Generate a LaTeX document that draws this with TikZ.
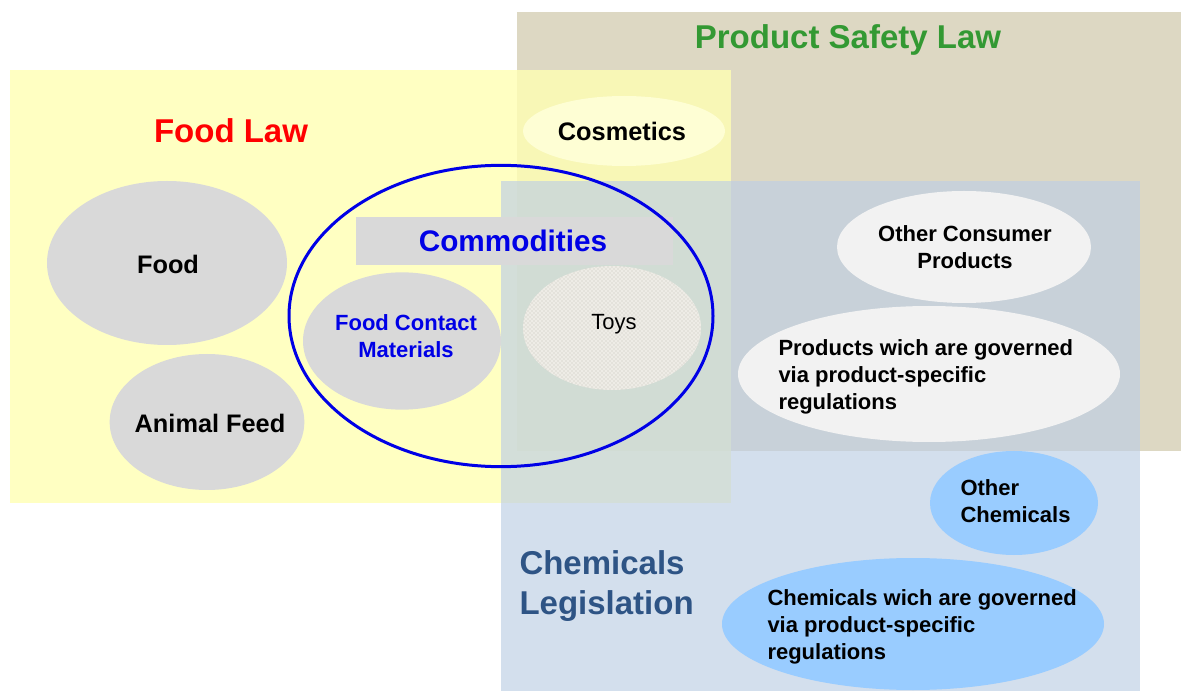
\documentclass[tikz,border=0pt]{standalone}
\usepackage{fontspec}
\setmainfont{Liberation Sans}
\usetikzlibrary{shapes.geometric,patterns}

\definecolor{lawtan}{RGB}{221,216,195}
\definecolor{lawyellow}{RGB}{255,255,179}
\definecolor{chemblue}{RGB}{190,207,228}
\definecolor{itemgrey}{RGB}{217,217,217}
\definecolor{itemwhite}{RGB}{242,242,242}
\definecolor{cosmyellow}{RGB}{254,254,212}
\definecolor{itemblue}{RGB}{153,204,255}
\definecolor{commblue}{RGB}{0,0,230}
\definecolor{lawred}{RGB}{255,0,0}
\definecolor{lawgreen}{RGB}{51,153,51}
\definecolor{chemtitle}{RGB}{46,84,133}
\definecolor{toyfill}{RGB}{238,236,230}
\definecolor{toydots}{RGB}{196,194,186}

\tikzset{every picture/.style={line width=0.75pt}}
\tikzset{
  item/.style={ellipse, inner sep=0pt},
  itemtext/.style={inner sep=0pt, align=left, font=\bfseries\fontsize{16.5}{20}\selectfont},
  bigtext/.style={inner sep=0pt, font=\bfseries\fontsize{19}{23}\selectfont},
  lawtitle/.style={inner sep=0pt, font=\bfseries\fontsize{24.75}{30}\selectfont},
}

\begin{document}
\begin{tikzpicture}[x=0.75pt,y=0.75pt,yscale=-1,xscale=1]
		\useasboundingbox (0,0) rectangle (1182,691);
		
		%Shape: Rectangle [product safety law]
		\fill [lawtan] (517,12) rectangle (1181,451) ;
		%Shape: Rectangle [food law]
		\fill [lawyellow, fill opacity=0.8] (10,70) rectangle (731,503) ;
		%Shape: Rectangle [chemicals legislation]
		\fill [chemblue, fill opacity=0.67] (501,181) rectangle (1140,691) ;
		
		%Shape: Ellipse [food law items]
		\node [item, fill=itemgrey, minimum width=180pt, minimum height=123pt] (food) at (167,263) {};
		\node [item, fill=itemgrey, minimum width=146pt, minimum height=102pt] (feed) at (207,422) {};
		
		%Shape: Ellipse [commodities]
		\node [item, fill=itemgrey, minimum width=148.5pt, minimum height=103pt] (fcm) at (402,341) {};
		\node [item, fill=toyfill, postaction={pattern=crosshatch dots, pattern color=toydots}, minimum width=133.5pt, minimum height=93pt] (toys) at (612,328) {};
		\node [fill=itemgrey, inner sep=0pt, minimum width=238pt, minimum height=36pt] (commbox) at (514.5,241) {};
		\node [item, draw=commblue, line width=2.25pt, minimum width=318pt, minimum height=226pt] (commring) at (501,316) {};
		
		%Shape: Ellipse [product safety items]
		\node [item, fill=cosmyellow, minimum width=151.5pt, minimum height=52.5pt] (cosm) at (624,131) {};
		\node [item, fill=itemwhite, minimum width=190.5pt, minimum height=84pt] (ocp) at (964,247) {};
		\node [item, fill=itemwhite, minimum width=286.5pt, minimum height=102pt] (pwg) at (929,374) {};
		
		%Shape: Ellipse [chemicals items]
		\node [item, fill=itemblue, minimum width=126pt, minimum height=78pt] (ochem) at (1014,503) {};
		\node [item, fill=itemblue, minimum width=286.5pt, minimum height=99pt] (cwg) at (913,624) {};
		
		% Text Node
		\node [bigtext] (foodtxt) at (168,264) {Food};
		% Text Node
		\node [bigtext] (feedtxt) at (210,423) {Animal Feed};
		% Text Node
		\node [itemtext, align=center, text=commblue] (fcmtxt) at (406,336) {Food Contact\\Materials};
		% Text Node
		\node [itemtext, font=\fontsize{16.5}{20}\selectfont] (toystxt) at (614,324) {Toys};
		% Text Node
		\node [lawtitle, text=commblue, font=\bfseries\fontsize{22.3}{26}\selectfont] (comm) at (513,241) {Commodities};
		% Text Node
		\node [bigtext] (cosmtxt) at (622,131) {Cosmetics};
		% Text Node
		\node [itemtext, align=center] (ocptxt) at (965,247) {Other Consumer\\Products};
		% Text Node
		\node [itemtext, anchor=west] (pwgtxt) at (778,377) {Products wich are governed\\via product-specific\\regulations};
		% Text Node
		\node [itemtext, anchor=west] (ochemtxt) at (960,501) {Other\\Chemicals};
		% Text Node
		\node [itemtext, anchor=west] (cwgtxt) at (767,627) {Chemicals wich are governed\\via product-specific\\regulations};
		
		% Text Node
		\node [lawtitle, text=lawred] (foodlaw) at (231,131) {Food Law};
		% Text Node
		\node [lawtitle, text=lawgreen] (pslaw) at (848,40) {Product Safety Law};
		% Text Node
		\node [lawtitle, text=chemtitle, align=left, anchor=west] (chemlaw) at (519,586) {Chemicals\\Legislation};
		
\end{tikzpicture}
\end{document}
